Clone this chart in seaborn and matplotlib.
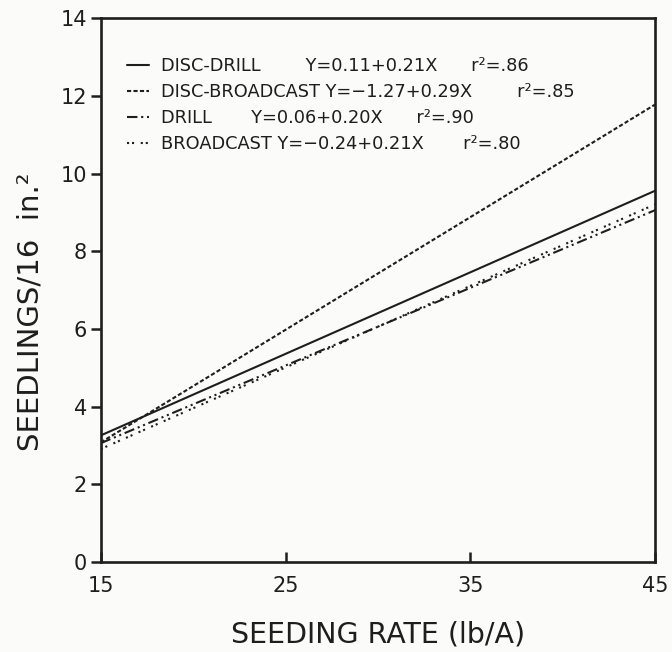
import numpy as np
import matplotlib
matplotlib.use("Agg")
import matplotlib.pyplot as plt
import pandas as pd
import seaborn as sns

# fitted lines, values read at both ends of the seeding-rate axis
rates = [15, 45]
labels = ["DISC-DRILL        Y=0.11+0.21X      r\u00b2=.86",
          "DISC-BROADCAST Y=\u22121.27+0.29X        r\u00b2=.85",
          "DRILL       Y=0.06+0.20X      r\u00b2=.90",
          "BROADCAST Y=\u22120.24+0.21X       r\u00b2=.80"]
disc_drill = [3.26, 9.56]
disc_broadcast = [3.08, 11.78]
drill = [3.06, 9.06]
broadcast = [2.91, 9.21]

xticks = [15, 25, 35, 45]
yticks = [0, 2, 4, 6, 8, 10, 12, 14]

df = pd.DataFrame({
    "rate": rates * 4,
    "seedlings": disc_drill + disc_broadcast + drill + broadcast,
    "method": [lab for lab in labels for _ in rates],
})

sns.set_theme(style="ticks")
plt.rcParams['font.family'] = ['DejaVu Sans']
ink = "#1e1e1e"
paper = "#fbfbfa"

fig = plt.figure(figsize=(6.72, 6.52), dpi=100, facecolor=paper)
ax = fig.add_axes([0.150, 0.138, 0.825, 0.834])
ax.set_facecolor(paper)

dash_map = {
    labels[0]: "",
    labels[1]: (2.0, 1.1),
    labels[2]: (5, 1.8, 1, 1.8, 1, 1.8),
    labels[3]: (1, 1.4, 1, 3.2),
}
sns.lineplot(data=df, x="rate", y="seedlings", style="method", style_order=labels,
             dashes=dash_map, color=ink, linewidth=1.5, ax=ax, legend=True)

ax.set_xlim(15, 45)
ax.set_ylim(0, 14)
ax.set_xticks(xticks)
ax.set_yticks(yticks)
ax.tick_params(axis="x", direction="in", length=7, width=1.8, colors=ink,
               labelsize=15, pad=10)
ax.tick_params(axis="y", direction="out", length=7, width=1.8, colors=ink,
               labelsize=15, pad=3)
for s in ax.spines.values():
    s.set_linewidth(1.9)
    s.set_color(ink)

ax.set_xlabel("SEEDING RATE (lb/A)", fontsize=20.5, color=ink, labelpad=18)
ax.set_ylabel("SEEDLINGS/16  in.\u00b2", fontsize=21, color=ink)
ax.yaxis.set_label_coords(-0.101, 0.46)

handles, labs = ax.get_legend_handles_labels()
leg = ax.legend(handles, labs, loc="upper left", frameon=False, fontsize=12.8,
                handlelength=1.25, handletextpad=0.67, labelspacing=0.44,
                borderaxespad=0, borderpad=0, bbox_to_anchor=(0.047, 0.928))
for t in leg.get_texts():
    t.set_color(ink)

plt.savefig("out.png", dpi=100, facecolor=fig.get_facecolor())
